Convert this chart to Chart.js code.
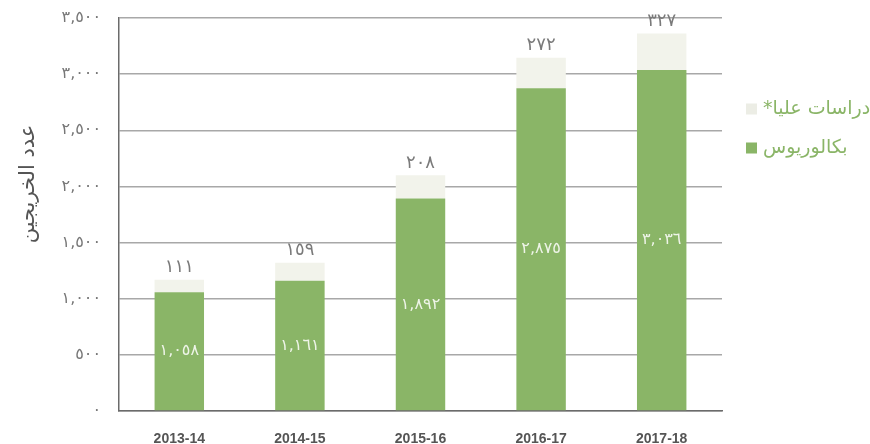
<!DOCTYPE html>
<html>
<head>
<meta charset="utf-8">
<script src="https://cdn.jsdelivr.net/npm/chart.js@4/dist/chart.umd.min.js"></script>
<style>
  html, body { margin: 0; padding: 0; background: #ffffff; }
  #wrap { width: 870px; height: 444px; }
</style>
</head>
<body>
<div id="wrap"><canvas id="c" width="870" height="444"></canvas></div>
<script>
// ---- data ----
const categories = ['2013-14', '2014-15', '2015-16', '2016-17', '2017-18'];
const bachelorValues = [1058, 1161, 1892, 2875, 3036];
const graduateValues = [111, 159, 208, 272, 327];
const yTickValues = [0, 500, 1000, 1500, 2000, 2500, 3000, 3500];
const seriesNames = ['بكالوريوس', 'دراسات عليا*'];
const yAxisTitle = 'عدد الخريجين';

const GREEN = '#8ab567';
const LIGHT = '#f2f3eb';
const AR_FONT = '"DejaVu Sans", sans-serif';

function arabicNum(n) {
  return n.toLocaleString('en-US').replace(/\d/g, d => '٠١٢٣٤٥٦٧٨٩'[+d]);
}

const labelsPlugin = {
  id: 'barLabels',
  afterDatasetsDraw(chart) {
    const ctx = chart.ctx;
    ctx.save();
    ctx.textAlign = 'center';
    const m0 = chart.getDatasetMeta(0);
    ctx.font = '16px ' + AR_FONT;
    ctx.fillStyle = '#eef4e8';
    ctx.textBaseline = 'middle';
    m0.data.forEach((el, i) => {
      ctx.fillText(arabicNum(chart.data.datasets[0].data[i]), el.x, (el.y + el.base) / 2);
    });
    const m1 = chart.getDatasetMeta(1);
    ctx.font = '18px ' + AR_FONT;
    ctx.fillStyle = '#7a7a7a';
    ctx.textBaseline = 'bottom';
    m1.data.forEach((el, i) => {
      ctx.fillText(arabicNum(chart.data.datasets[1].data[i]), el.x, el.y - 3);
    });
    ctx.restore();
  }
};

const legendPlugin = {
  id: 'customLegend',
  afterDraw(chart) {
    const ctx = chart.ctx;
    ctx.save();
    const ds = chart.data.datasets;
    const order = [1, 0];
    const ys = [109, 148];
    ctx.font = '19px ' + AR_FONT;
    ctx.textBaseline = 'middle';
    order.forEach((di, k) => {
      const y = ys[k];
      ctx.fillStyle = di === 1 ? '#ecede5' : ds[di].backgroundColor;
      ctx.fillRect(746, y - 5.5, 11, 11);
      ctx.fillStyle = GREEN;
      ctx.direction = 'rtl';
      ctx.textAlign = 'right';
      const w = ctx.measureText(ds[di].label).width;
      ctx.fillText(ds[di].label, 763 + w, y);
    });
    ctx.restore();
  }
};

const yTitlePlugin = {
  id: 'yTitle',
  afterDraw(chart) {
    const ctx = chart.ctx;
    ctx.save();
    ctx.translate(29, 184);
    ctx.rotate(-Math.PI / 2);
    ctx.font = '21px ' + AR_FONT;
    ctx.fillStyle = '#555555';
    ctx.textAlign = 'center';
    ctx.textBaseline = 'middle';
    ctx.fillText(yAxisTitle, 0, 0);
    ctx.restore();
  }
};

new Chart(document.getElementById('c'), {
  type: 'bar',
  data: {
    labels: categories,
    datasets: [
      { label: seriesNames[0], data: bachelorValues, backgroundColor: GREEN, borderWidth: 0 },
      { label: seriesNames[1], data: graduateValues, backgroundColor: LIGHT, borderWidth: 0 }
    ]
  },
  options: {
    responsive: false,
    devicePixelRatio: 1,
    animation: false,
    layout: { padding: { top: 18, right: 148, left: 0, bottom: 0 } },
    datasets: { bar: { categoryPercentage: 1.0, barPercentage: 0.41 } },
    plugins: {
      legend: { display: false },
      tooltip: { enabled: false },
      title: { display: false }
    },
    scales: {
      x: {
        stacked: true,
        grid: { display: false },
        border: { display: true, color: '#6b6b6b', width: 1.5 },
        ticks: {
          color: '#555555',
          padding: 12,
          font: { family: '"Liberation Sans", Arial, sans-serif', size: 14, weight: 'bold' }
        },
        afterFit(scale) { scale.height = 33; scale.paddingLeft = 0; scale.paddingRight = 0; }
      },
      y: {
        stacked: true,
        min: 0,
        max: 3500,
        afterBuildTicks(scale) { scale.ticks = yTickValues.map(v => ({ value: v })); },
        grid: { color: '#a8a8a8', lineWidth: 1.5, drawTicks: false },
        border: { display: true, color: '#6b6b6b', width: 1.5 },
        ticks: {
          color: '#777777',
          padding: 18,
          font: { family: AR_FONT, size: 16 },
          callback: v => arabicNum(v)
        },
        afterFit(scale) { scale.width = 119; scale.paddingTop = 0; scale.paddingBottom = 0; }
      }
    }
  },
  plugins: [labelsPlugin, legendPlugin, yTitlePlugin]
});
</script>
</body>
</html>
